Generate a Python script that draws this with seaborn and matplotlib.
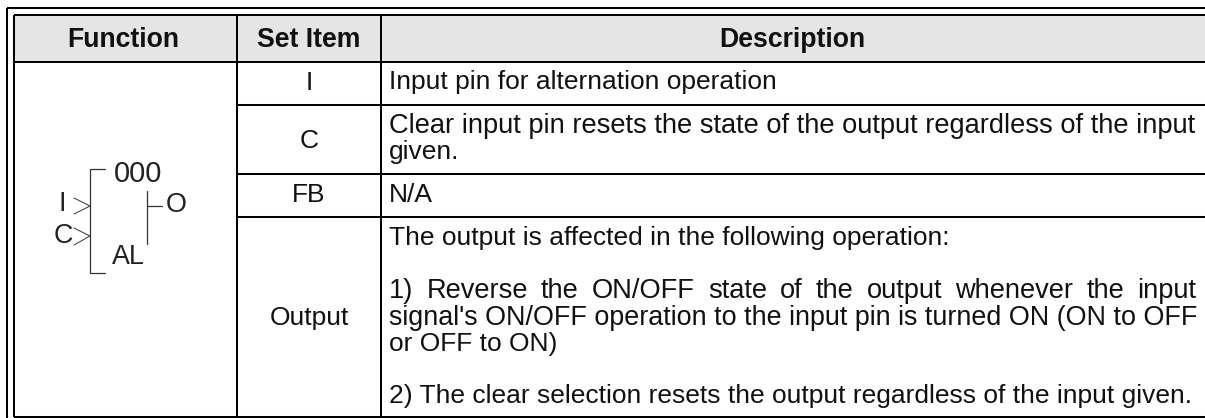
import matplotlib
matplotlib.use("Agg")
import matplotlib.pyplot as plt
import seaborn as sns

W, H = 1205, 418
sns.set_theme(style="white")
plt.rcParams['font.family'] = ['Liberation Sans', 'DejaVu Sans']

header_labels = ["Function", "Set Item", "Description"]
header_x = [123, 309, 792]
set_items = ["I", "C", "FB", "Output"]
item_y = [80, 139, 193, 315]
desc_lines = [
    ("Input pin for alternation operation", 80, None),
    ("Clear input pin resets the state of the output regardless of the input", 123, "fit"),
    ("given.", 150, None),
    ("N/A", 193, None),
    ("The output is affected in the following operation:", 236, None),
    ("1) Reverse the ON/OFF state of the output whenever the input", 288, "words"),
    ("signal's ON/OFF operation to the input pin is turned ON (ON to OFF", 315, "fit"),
    ("or OFF to ON)", 342, None),
    ("2) The clear selection resets the output regardless of the input given.", 393, None),
]
col_x = [14, 237, 381]
row_y = [62, 104.5, 174.3, 216.7]
top_y, bottom_y = 15, 416.7
outer_x, outer_y = 7, 7.5

fig = plt.figure(figsize=(W / 100, H / 100), dpi=100)
ax = fig.add_axes([0, 0, 1, 1])
ax.set_xlim(0, W)
ax.set_ylim(H, 0)
ax.axis("off")

ax.axhspan(top_y, row_y[0], xmin=col_x[0] / W, xmax=1, color="#e5e5e5", lw=0, zorder=0)

lw = 1.45
ax.hlines([outer_y, top_y, row_y[0], bottom_y], [outer_x, col_x[0], col_x[0], col_x[0]], W, color="black", lw=lw)
ax.hlines(row_y[1:], col_x[1], W, color="black", lw=lw)
ax.vlines(outer_x, outer_y, H, color="black", lw=lw)
ax.vlines(col_x, top_y, bottom_y, color="black", lw=lw)

fs = 19.0
ink = "#111111"
for label, x in zip(header_labels, header_x):
    ax.text(x, 37, label, ha="center", va="center_baseline", fontsize=19.2, fontweight="bold", color=ink)
for label, y in zip(set_items, item_y):
    ax.text(309, y, label, ha="center", va="center_baseline", fontsize=fs, color=ink)

fig.canvas.draw()
rend = fig.canvas.get_renderer()
x0, x1 = 390, 1197
for text, y, mode in desc_lines:
    if mode == "words":
        words = text.split(" ")
        arts = [ax.text(x0 - 1, y, w, ha="left", va="center_baseline", fontsize=19.6, color=ink) for w in words]
        widths = [a.get_window_extent(rend).width for a in arts]
        gap = (x1 - x0 - sum(widths)) / (len(words) - 1)
        x = x0 - 1
        for a, w in zip(arts, widths):
            a.set_x(x)
            x += w + gap
        continue
    t = ax.text(x0 - 1, y, text, ha="left", va="center_baseline", fontsize=fs, color=ink)
    if mode == "fit":
        t.set_fontsize(fs * (x1 - x0) / t.get_window_extent(rend).width)

# Function block symbol
sym = "#333333"
ax.plot([105, 90, 90, 105], [169, 169, 273, 273], color=sym, lw=0.9)
ax.plot([146.5, 146.5], [191, 244], color=sym, lw=0.9)
ax.plot([146.5, 162], [206, 206], color=sym, lw=0.9)
ax.plot([74, 90, 74], [198, 206, 214], color=sym, lw=0.7)
ax.plot([74, 90, 74], [228, 236, 245], color=sym, lw=0.7)
for s, x, y, size in [("000", 138, 174, 21), ("O", 176, 205, 19.4), ("I", 62, 204, 19.4),
                      ("C", 63, 236, 19.4), ("AL", 128, 257, 19.4)]:
    ax.text(x, y, s, ha="center", va="center", fontsize=size, color="#222222")

fig.savefig("out.png", dpi=100)
